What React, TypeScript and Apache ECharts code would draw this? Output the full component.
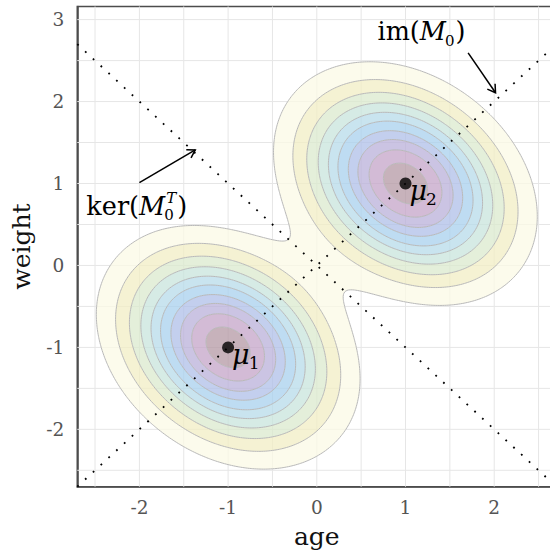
import React, { useEffect, useRef } from "react";
import * as echarts from "echarts";

const FONT = "DejaVu Serif";

// axes
const X_EXTENT = [-2.7, 2.7];
const Y_EXTENT = [-2.7, 3.16];
const X_TICK_LABELS = [-2, -1, 0, 1, 2];
const Y_TICK_LABELS = [-2, -1, 0, 1, 2, 3];
const X_GRID_LINES = [-2.5, -2, -1.5, -1, -0.5, 0, 0.5, 1, 1.5, 2, 2.5];
const Y_GRID_LINES = [-2.5, -2, -1.5, -1, -0.5, 0, 0.5, 1, 1.5, 2, 2.5, 3];

// two-component Gaussian mixture
const MEANS = [
  [-1, -1],
  [1, 1],
];
const MEAN_SUBSCRIPTS = ["1", "2"];
const SIGMA = [0.707, 0.707];
const RHO = [-0.27];
// contour levels, as fractions of one component's peak height
const CONTOUR_LEVELS = [0.11, 0.2, 0.29, 0.38, 0.47, 0.56, 0.66, 0.75, 0.845, 0.94];
const BAND_COLORS = [
  "rgba(251,250,230,0.75)",
  "rgba(242,238,196,0.75)",
  "rgba(219,234,206,0.75)",
  "rgba(200,228,220,0.75)",
  "rgba(183,219,234,0.75)",
  "rgba(168,208,238,0.75)",
  "rgba(175,191,232,0.75)",
  "rgba(186,176,218,0.75)",
  "rgba(196,164,200,0.75)",
  "rgba(180,152,164,0.75)",
];

// dotted subspace lines im(M0) (y = x) and ker(M0^T) (y = -x)
const SUBSPACE_LINES = [
  [
    [-2.7, -2.7],
    [2.7, 2.7],
  ],
  [
    [-2.7, 2.7],
    [2.7, -2.7],
  ],
];
// arrows: [fromX, fromY, toX, toY]
const ARROWS = [
  [1.706, 2.594, 2.015, 2.107],
  [-2.0, 1.01, -1.37, 1.41],
];
// annotation anchors (centre of the baseline) and their math tokens
const ANNOTATION_ANCHORS = [
  [1.18, 2.76],
  [-2.03, 0.634],
];
const ANNOTATION_TOKENS: any[] = [
  [{ t: "im(" }, { t: "M", it: true }, { sub: "0" }, { t: ")" }],
  [{ t: "ker(" }, { t: "M", it: true }, { sub: "0", sup: "T" }, { t: ")" }],
];

const STEP = 0.02;

function density(x: number, y: number) {
  const sx = SIGMA[0];
  const sy = SIGMA[1];
  const r = RHO[0];
  let s = 0;
  for (const m of MEANS) {
    const dx = (x - m[0]) / sx;
    const dy = (y - m[1]) / sy;
    const q = (dx * dx + dy * dy - 2 * r * dx * dy) / (1 - r * r);
    s += Math.exp(-0.5 * q);
  }
  return s;
}

function buildField() {
  const x0 = X_EXTENT[0];
  const y0 = Y_EXTENT[0];
  const nx = Math.ceil((X_EXTENT[1] - x0) / STEP);
  const ny = Math.ceil((Y_EXTENT[1] - y0) / STEP);
  const W = nx + 1;
  const vals = new Float64Array(W * (ny + 1));
  for (let j = 0; j <= ny; j++) {
    for (let i = 0; i <= nx; i++) {
      vals[j * W + i] = density(x0 + i * STEP, y0 + j * STEP);
    }
  }
  return { nx, ny, W, vals, x0, y0 };
}

function signedArea(loop: number[][]) {
  let a = 0;
  for (let i = 0; i < loop.length; i++) {
    const p = loop[i];
    const q = loop[(i + 1) % loop.length];
    a += p[0] * q[1] - q[0] * p[1];
  }
  return a / 2;
}

function traceLoops(field: any, level: number) {
  const { nx, ny, W, vals, x0, y0 } = field;
  const adj = new Map<number, number[]>();
  const link = (a: number, b: number) => {
    if (!adj.has(a)) adj.set(a, []);
    if (!adj.has(b)) adj.set(b, []);
    adj.get(a)!.push(b);
    adj.get(b)!.push(a);
  };
  const hKey = (i: number, j: number) => 2 * (j * W + i);
  const vKey = (i: number, j: number) => 2 * (j * W + i) + 1;
  for (let j = 0; j < ny; j++) {
    for (let i = 0; i < nx; i++) {
      const v0 = vals[j * W + i];
      const v1 = vals[j * W + i + 1];
      const v2 = vals[(j + 1) * W + i + 1];
      const v3 = vals[(j + 1) * W + i];
      let c = 0;
      if (v0 >= level) c |= 1;
      if (v1 >= level) c |= 2;
      if (v2 >= level) c |= 4;
      if (v3 >= level) c |= 8;
      if (c === 0 || c === 15) continue;
      const B = hKey(i, j);
      const R = vKey(i + 1, j);
      const T = hKey(i, j + 1);
      const L = vKey(i, j);
      const ctr = (v0 + v1 + v2 + v3) / 4;
      switch (c) {
        case 1:
        case 14:
          link(L, B);
          break;
        case 2:
        case 13:
          link(B, R);
          break;
        case 3:
        case 12:
          link(L, R);
          break;
        case 4:
        case 11:
          link(R, T);
          break;
        case 6:
        case 9:
          link(B, T);
          break;
        case 7:
        case 8:
          link(L, T);
          break;
        case 5:
          if (ctr >= level) {
            link(B, R);
            link(T, L);
          } else {
            link(L, B);
            link(R, T);
          }
          break;
        case 10:
          if (ctr >= level) {
            link(L, B);
            link(R, T);
          } else {
            link(B, R);
            link(T, L);
          }
          break;
      }
    }
  }
  const pt = (key: number) => {
    const idx = Math.floor(key / 2);
    const i = idx % W;
    const j = (idx - i) / W;
    if (key % 2 === 0) {
      const a = vals[j * W + i];
      const b = vals[j * W + i + 1];
      const t = (level - a) / (b - a);
      return [x0 + (i + t) * STEP, y0 + j * STEP];
    }
    const a = vals[j * W + i];
    const b = vals[(j + 1) * W + i];
    const t = (level - a) / (b - a);
    return [x0 + i * STEP, y0 + (j + t) * STEP];
  };
  const visited = new Set<number>();
  const loops: number[][][] = [];
  for (const start of adj.keys()) {
    if (visited.has(start)) continue;
    const loop: number[][] = [];
    let prev = -1;
    let cur = start;
    for (;;) {
      visited.add(cur);
      loop.push(pt(cur));
      const nb = adj.get(cur)!;
      const next = nb[0] !== prev ? nb[0] : nb[1];
      if (next === undefined || visited.has(next)) break;
      prev = cur;
      cur = next;
    }
    if (loop.length > 2) {
      if (signedArea(loop) < 0) loop.reverse();
      loops.push(loop);
    }
  }
  return loops;
}

let measureCtx: CanvasRenderingContext2D | null = null;
function textWidth(s: string, size: number, italic: boolean) {
  if (!measureCtx) measureCtx = document.createElement("canvas").getContext("2d");
  measureCtx!.font = `${italic ? "italic " : ""}${size}px "${FONT}"`;
  return measureCtx!.measureText(s).width;
}

function mathGroup(tokens: any[], bx: number, by: number, align: string, mainSize: number, scriptSize: number) {
  const items: any[] = [];
  let x = 0;
  for (const tok of tokens) {
    if (tok.t) {
      items.push({ text: tok.t, x, dy: 0, size: mainSize, it: !!tok.it });
      x += textWidth(tok.t, mainSize, !!tok.it);
    } else {
      let w = 0;
      if (tok.sub) {
        items.push({ text: tok.sub, x: x - 1, dy: 6, size: scriptSize, it: false, lh: scriptSize * 0.9 });
        w = Math.max(w, textWidth(tok.sub, scriptSize, false) - 1);
      }
      if (tok.sup) {
        items.push({ text: tok.sup, x: x + 1, dy: -11, size: scriptSize, it: true, lh: scriptSize * 0.9 });
        w = Math.max(w, textWidth(tok.sup, scriptSize, true) + 1);
      }
      x += w + 1;
    }
  }
  const start = align === "center" ? bx - x / 2 : bx;
  return items.map((it) => ({
    type: "text",
    x: start + it.x,
    y: by + it.dy - 0.31 * it.size,
    style: {
      text: it.text,
      fontFamily: FONT,
      fontSize: it.size,
      lineHeight: it.lh || it.size,
      fontStyle: it.it ? "italic" : "normal",
      fill: "#000",
      align: "left",
      verticalAlign: "middle",
    },
  }));
}

export default function App() {
  const ref = useRef<HTMLDivElement>(null);

  useEffect(() => {
    if (!ref.current) return;
    const chart = echarts.init(ref.current, null, { renderer: "svg" });

    const field = buildField();
    const levelLoops = CONTOUR_LEVELS.map((l) => traceLoops(field, l));
    const contourItems: number[][] = [];
    levelLoops.forEach((loops, k) => loops.forEach((_, n) => contourItems.push([0, 0, k, n])));

    const toPath = (loop: number[][], api: any, reverse: boolean) => {
      const pts = loop.map((p) => api.coord(p));
      if (reverse) pts.reverse();
      return "M" + pts.map((p: number[]) => p[0].toFixed(2) + " " + p[1].toFixed(2)).join("L") + "Z";
    };

    const axisLineStyle = { color: "#4d4d4d", width: 1.6 };
    const labelStyle = { fontFamily: FONT, fontSize: 18.5, color: "#555" };
    const nameStyle = { fontFamily: FONT, fontSize: 25, color: "#111" };

    const option: any = {
      animation: false,
      grid: {
        left: 77.3,
        top: 6.5,
        width: 479,
        height: 480.2,
        outerBoundsMode: "none",
        containLabel: false,
        show: true,
        borderColor: "#4d4d4d",
        borderWidth: 1.6,
        backgroundColor: "transparent",
      },
      xAxis: {
        type: "value",
        min: X_EXTENT[0],
        max: X_EXTENT[1],
        name: "age",
        nameLocation: "middle",
        nameGap: 37,
        nameTextStyle: nameStyle,
        axisLine: { show: true, onZero: false, lineStyle: axisLineStyle },
        axisTick: { show: false },
        splitLine: { show: false },
        axisLabel: { ...labelStyle, margin: 11, customValues: X_TICK_LABELS },
      },
      yAxis: {
        type: "value",
        min: Y_EXTENT[0],
        max: Y_EXTENT[1],
        name: "weight",
        nameLocation: "middle",
        nameGap: 43,
        nameTextStyle: nameStyle,
        axisLine: { show: true, onZero: false, lineStyle: axisLineStyle },
        axisTick: { show: false },
        splitLine: { show: false },
        axisLabel: { ...labelStyle, margin: 13, customValues: Y_TICK_LABELS },
      },
      series: [
        {
          type: "custom",
          name: "grid lines",
          silent: true,
          z: 1,
          data: [
            ...X_GRID_LINES.map((v) => [v, 0, 0]),
            ...Y_GRID_LINES.map((v) => [0, v, 1]),
          ],
          renderItem: (params: any, api: any) => {
            const vertical = api.value(2) === 0;
            const a = vertical
              ? api.coord([api.value(0), Y_EXTENT[0]])
              : api.coord([X_EXTENT[0], api.value(1)]);
            const b = vertical
              ? api.coord([api.value(0), Y_EXTENT[1]])
              : api.coord([X_EXTENT[1], api.value(1)]);
            return {
              type: "line",
              shape: { x1: a[0], y1: a[1], x2: b[0], y2: b[1] },
              style: { stroke: "#e6e6e6", lineWidth: 1 },
            };
          },
        },
        {
          type: "custom",
          name: "bands",
          silent: true,
          z: 2,
          data: CONTOUR_LEVELS.map((_, k) => [0, 0, k]),
          renderItem: (params: any, api: any) => {
            const k = params.dataIndex;
            let d = levelLoops[k].map((lp) => toPath(lp, api, false)).join(" ");
            if (k + 1 < levelLoops.length) {
              d += " " + levelLoops[k + 1].map((lp) => toPath(lp, api, true)).join(" ");
            }
            return {
              type: "path",
              shape: { pathData: d },
              style: { fill: BAND_COLORS[k], stroke: "none" },
            };
          },
        },
        {
          type: "custom",
          name: "contours",
          silent: true,
          z: 3,
          data: contourItems,
          renderItem: (params: any, api: any) => {
            const item = contourItems[params.dataIndex];
            const loop = levelLoops[item[2]][item[3]];
            return {
              type: "polygon",
              shape: { points: loop.map((p) => api.coord(p)) },
              style: { fill: "none", stroke: "#b9b9b9", lineWidth: 1 },
            };
          },
        },
        ...SUBSPACE_LINES.map((line) => ({
          type: "line",
          silent: true,
          z: 4,
          data: line,
          symbol: "none",
          lineStyle: { color: "#000", width: 1.8, type: [1.8, 8.8], cap: "butt" },
        })),
        {
          type: "custom",
          name: "arrows",
          silent: true,
          z: 5,
          data: ARROWS,
          renderItem: (params: any, api: any) => {
            const a = api.coord([api.value(0), api.value(1)]);
            const b = api.coord([api.value(2), api.value(3)]);
            const ang = Math.atan2(b[1] - a[1], b[0] - a[0]);
            const L = 9;
            const spread = 0.55;
            const h1 = [b[0] - L * Math.cos(ang - spread), b[1] - L * Math.sin(ang - spread)];
            const h2 = [b[0] - L * Math.cos(ang + spread), b[1] - L * Math.sin(ang + spread)];
            return {
              type: "group",
              children: [
                {
                  type: "line",
                  shape: { x1: a[0], y1: a[1], x2: b[0], y2: b[1] },
                  style: { stroke: "#000", lineWidth: 1.5 },
                },
                {
                  type: "polyline",
                  shape: { points: [h1, b, h2] },
                  style: { stroke: "#000", lineWidth: 1.5, fill: "none" },
                },
              ],
            };
          },
        },
        {
          type: "scatter",
          silent: true,
          z: 6,
          data: MEANS,
          symbol: "circle",
          symbolSize: 12,
          itemStyle: { color: "#000" },
        },
        {
          type: "custom",
          name: "mean labels",
          silent: true,
          z: 7,
          data: MEANS,
          renderItem: (params: any, api: any) => {
            const p = api.coord([api.value(0), api.value(1)]);
            return {
              type: "group",
              children: mathGroup(
                [{ t: "μ", it: true }, { sub: MEAN_SUBSCRIPTS[params.dataIndex] }],
                p[0] + 4,
                p[1] + 15,
                "left",
                27,
                17
              ),
            };
          },
        },
        {
          type: "custom",
          name: "annotations",
          silent: true,
          z: 7,
          data: ANNOTATION_ANCHORS,
          renderItem: (params: any, api: any) => {
            const p = api.coord([api.value(0), api.value(1)]);
            return {
              type: "group",
              children: mathGroup(ANNOTATION_TOKENS[params.dataIndex], p[0], p[1], "center", 25.5, 15),
            };
          },
        },
      ],
    };

    chart.setOption(option);
    return () => chart.dispose();
  }, []);

  return (
    <div
      ref={ref}
      style={{ position: "fixed", left: 0, top: 0, width: 550, height: 553, background: "#fff" }}
    />
  );
}
